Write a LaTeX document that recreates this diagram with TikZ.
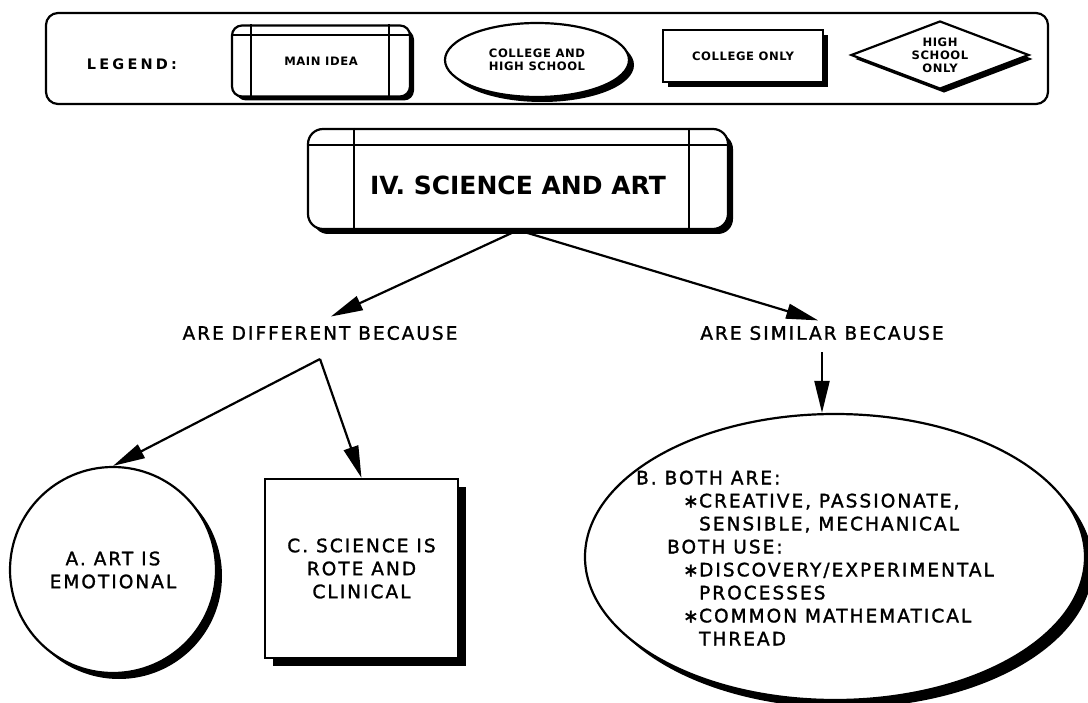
\documentclass[tikz,border=0pt]{standalone}
\usepackage{fontspec}
\setmainfont{DejaVu Sans}
\newfontfamily\bodyfont{DejaVu Sans}[LetterSpace=11,FakeBold=1.5]
\newfontfamily\keyfont{DejaVu Sans}[LetterSpace=5]
\usetikzlibrary{shapes.geometric,shadows,arrows.meta}

\begin{document}
\begin{tikzpicture}[x=1pt,y=-1pt,line width=2.2pt,
  blk/.style={drop shadow={shadow xshift=#1,shadow yshift=-#1,fill=black,opacity=1}},
  blk/.default=4pt,
  shape box/.style={draw,fill=white,inner sep=0pt},
  idea/.style={shape box,rounded corners=#1},
  idea/.default=10pt,
  txt/.style={font=\bodyfont\fontsize{18.5}{23}\selectfont,align=center},
  keytxt/.style={font=\keyfont\bfseries\fontsize{11.6}{13}\selectfont,align=center},
  arr/.style={-{Triangle[length=32pt,width=15pt]}}]
  \useasboundingbox (0,0) rectangle (1088,703);

  % legend
  \node[draw,rounded corners=12pt,minimum width=1002pt,minimum height=91pt] (legend) at (547,58.5) {};
  \node[keytxt,font=\keyfont\bfseries\fontsize{14.5}{14}\selectfont\addfontfeature{LetterSpace=22}] (legword) at (132,64) {LEGEND:};
  \node[idea,blk,minimum width=178pt,minimum height=71pt,keytxt] (keyidea) at (321,61) {MAIN IDEA};
  \draw ([xshift=20pt]keyidea.north west) -- ([xshift=20pt]keyidea.south west)
        ([xshift=-22pt]keyidea.north east) -- ([xshift=-22pt]keyidea.south east)
        ([yshift=-11pt]keyidea.north west) -- ([yshift=-11pt]keyidea.north east);
  \node[ellipse,shape box,blk=5pt,minimum width=184pt,minimum height=74pt,keytxt] (keyboth) at (537,60) {COLLEGE AND\\HIGH SCHOOL};
  \node[shape box,blk=5pt,minimum width=160pt,minimum height=52pt,keytxt] (keycoll) at (743,56) {COLLEGE ONLY};
  \node[diamond,shape box,blk,aspect=2.6,minimum width=178pt,minimum height=68pt,keytxt] (keyhigh) at (940,55) {HIGH\\SCHOOL\\ONLY};

  % main idea
  \node[idea=15pt,blk=5pt,minimum width=420pt,minimum height=100pt] (main) at (518,179) {};
  \draw ([xshift=47pt]main.north west) -- ([xshift=47pt]main.south west)
        ([xshift=-40pt]main.north east) -- ([xshift=-40pt]main.south east)
        ([yshift=-17pt]main.north west) -- ([yshift=-17pt]main.north east);
  \node[font=\fontsize{25}{25}\selectfont\bfseries] (title) at ([yshift=-6pt]main.center) {IV. SCIENCE AND ART};

  \node[txt] (diff) at (320,333) {ARE DIFFERENT BECAUSE};
  \node[txt] (simi) at (822,333) {ARE SIMILAR BECAUSE};
  \draw[arr,shorten >=12pt] (main.south) -- (diff.north);
  \draw[arr,shorten >=4pt] (main.south) -- (simi.north);

  % subtopics
  \coordinate (fork) at (320,359);
  \node[circle,shape box,blk=6pt,minimum size=206pt,txt] (artA) at (113,570) {A. ART IS\\EMOTIONAL};
  \node[shape box,blk=8pt,minimum width=193pt,minimum height=179pt,txt] (sciC) at (361.5,568.5) {C. SCIENCE IS\\ROTE AND\\CLINICAL};
  \draw[arr] (fork) -- (artA.north);
  \draw[arr] (fork) -- (sciC.north);

  \node[ellipse,shape box,blk=8pt,minimum width=500pt,minimum height=286pt] (both) at (835,557) {};
  \draw[arr,shorten <=8pt] (simi.south) -- (simi.south |- both.north);
  \node[txt,align=left] (bothtxt) at (815,558) {B. BOTH ARE:\\
    \hspace*{47pt}\makebox[16pt][l]{∗}CREATIVE, PASSIONATE,\\
    \hspace*{63pt}SENSIBLE, MECHANICAL\\
    \hspace*{31pt}BOTH USE:\\
    \hspace*{47pt}\makebox[16pt][l]{∗}DISCOVERY/EXPERIMENTAL\\
    \hspace*{63pt}PROCESSES\\
    \hspace*{47pt}\makebox[16pt][l]{∗}COMMON MATHEMATICAL\\
    \hspace*{63pt}THREAD};
\end{tikzpicture}
\end{document}
